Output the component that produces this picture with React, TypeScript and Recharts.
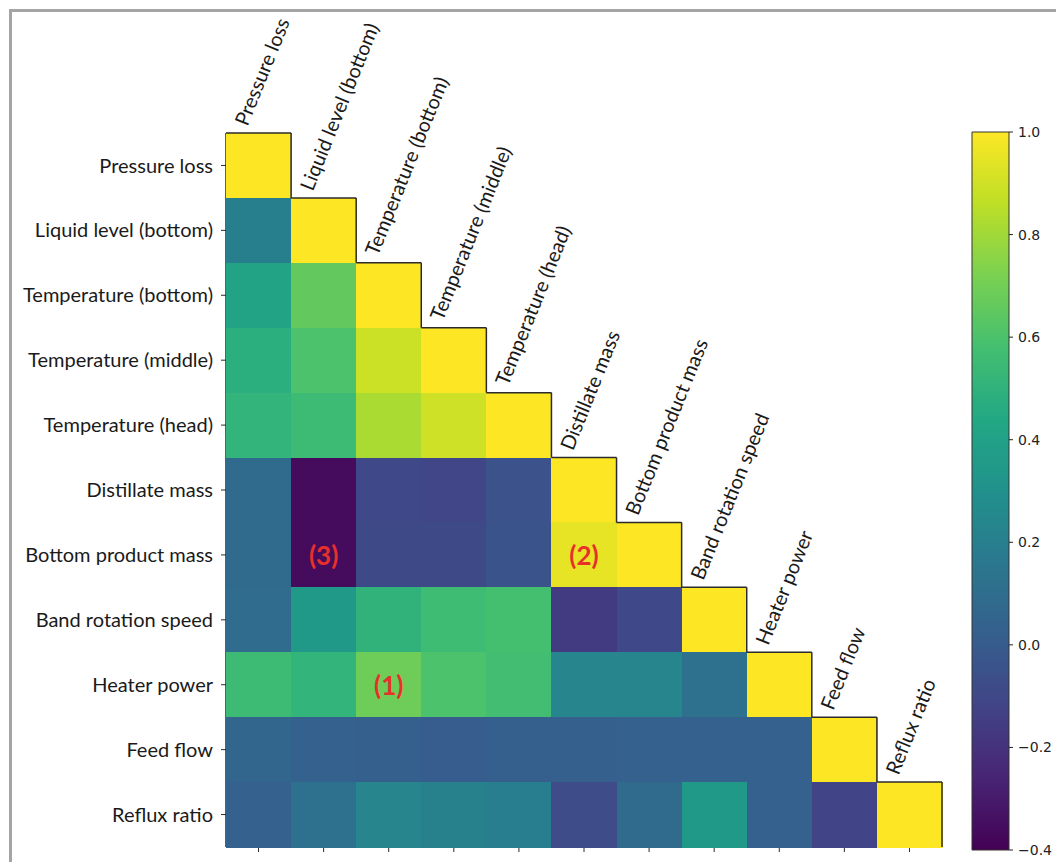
import { ScatterChart, Scatter, XAxis, YAxis, BarChart, Bar } from 'recharts'

const variables = [
  'Pressure loss',
  'Liquid level (bottom)',
  'Temperature (bottom)',
  'Temperature (middle)',
  'Temperature (head)',
  'Distillate mass',
  'Bottom product mass',
  'Band rotation speed',
  'Heater power',
  'Feed flow',
  'Reflux ratio',
]

// lower triangle, row by row (row 1..10), diagonal left out (always 1)
const row1 = [0.2]
const row2 = [0.41, 0.66]
const row3 = [0.48, 0.6, 0.89]
const row4 = [0.51, 0.55, 0.82, 0.9]
const row5 = [0.08, -0.36, -0.1, -0.11, -0.05]
const row6 = [0.08, -0.36, -0.09, -0.09, -0.04, 0.95]
const row7 = [0.09, 0.35, 0.5, 0.56, 0.58, -0.16, -0.1]
const row8 = [0.55, 0.51, 0.69, 0.6, 0.57, 0.23, 0.23, 0.12]
const row9 = [0.06, 0.03, 0.02, 0.01, 0.02, 0.02, 0.03, 0.03, 0.03]
const row10 = [0.03, 0.12, 0.23, 0.21, 0.19, -0.08, 0.08, 0.35, 0.03, -0.12]
const lowerRows = [row1, row2, row3, row4, row5, row6, row7, row8, row9, row10]

const annotations = [
  { row: 8, col: 2, label: '(1)' },
  { row: 6, col: 5, label: '(2)' },
  { row: 6, col: 1, label: '(3)' },
]

const colorbarTicks = [-0.4, -0.2, 0, 0.2, 0.4, 0.6, 0.8, 1.0]
const vmin = -0.4
const vmax = 1.0

// viridis key colours at t = 0, 0.1, ... 1
const viridisStops = [
  '#440154', '#482475', '#414487', '#355f8d', '#2a788e', '#21918c',
  '#22a884', '#44bf70', '#7ad151', '#bddf26', '#fde725',
]

function hexToRgb(h: string) {
  return [1, 3, 5].map((i) => parseInt(h.slice(i, i + 2), 16))
}

function viridis(v: number) {
  const t = Math.min(1, Math.max(0, (v - vmin) / (vmax - vmin))) * 10
  const i = Math.min(9, Math.floor(t))
  const f = t - i
  const a = hexToRgb(viridisStops[i])
  const b = hexToRgb(viridisStops[i + 1])
  const c = a.map((x, k) => Math.round(x + (b[k] - x) * f))
  return `rgb(${c[0]},${c[1]},${c[2]})`
}

const cells = [
  { x: 0, y: 0, value: 1 },
  ...lowerRows.flatMap((vals, r) => [
    ...vals.map((value, c) => ({ x: c, y: r + 1, value })),
    { x: r + 1, y: r + 1, value: 1 },
  ]),
]
const diagonal = variables.map((name, i) => ({ x: i, y: i, name }))
const annotationPoints = annotations.map((a) => ({ x: a.col, y: a.row, label: a.label }))
const colorbarData = [{ name: 'cb', range: [vmin, vmax] }]

const CHART_W = 950
const CHART_H = 846
const MARGIN = { top: 125, right: 16, bottom: 0, left: 0 }
const Y_AXIS_W = 218
const X_AXIS_H = 7
const CELL_W = (CHART_W - MARGIN.left - MARGIN.right - Y_AXIS_W) / variables.length
const CELL_H = (CHART_H - MARGIN.top - MARGIN.bottom - X_AXIS_H) / variables.length

const labelFont = 'Lato, "Open Sans", sans-serif'

function HeatCell(props: any) {
  const { cx, cy, payload } = props
  return (
    <rect
      x={cx - CELL_W / 2}
      y={cy - CELL_H / 2}
      width={CELL_W + 0.6}
      height={CELL_H + 0.6}
      fill={viridis(payload.value)}
      shapeRendering="crispEdges"
    />
  )
}

function DiagonalEdge(props: any) {
  const { cx, cy, payload } = props
  const x0 = cx - CELL_W / 2
  const x1 = cx + CELL_W / 2
  const y0 = cy - CELL_H / 2
  const y1 = cy + CELL_H / 2
  const lx = cx - 11
  const ly = y0 - 6
  return (
    <g>
      <line x1={x0} y1={y0} x2={x1} y2={y0} stroke="#2b2b2b" strokeWidth={1.5} />
      <line x1={x1} y1={y0} x2={x1} y2={y1} stroke="#2b2b2b" strokeWidth={1.5} />
      <text
        x={lx}
        y={ly}
        transform={`rotate(-68, ${lx}, ${ly})`}
        fontFamily={labelFont}
        fontSize={20}
        fill="#1a1a1a"
      >
        {payload.name}
      </text>
    </g>
  )
}

function Annotation(props: any) {
  const { cx, cy, payload } = props
  return (
    <text
      x={cx}
      y={cy}
      textAnchor="middle"
      dominantBaseline="central"
      fontFamily={labelFont}
      fontWeight="bold"
      fontSize={26}
      fill="#e8302a"
    >
      {payload.label}
    </text>
  )
}

function ColorbarTick(props: any) {
  const { x, y, payload } = props
  const v = payload.value as number
  const label = v < 0 ? '\u2212' + Math.abs(v).toFixed(1) : v.toFixed(1)
  return (
    <text
      x={x}
      y={y}
      dominantBaseline="central"
      fontFamily='"DejaVu Sans", sans-serif'
      fontSize={14}
      fill="#222"
    >
      {label}
    </text>
  )
}

function Colorbar() {
  return (
    <BarChart
      width={94}
      height={854}
      data={colorbarData}
      margin={{ top: 124, right: 0, bottom: 12, left: 10 }}
      barCategoryGap={0}
    >
      <XAxis dataKey="name" hide />
      <YAxis
        orientation="right"
        type="number"
        domain={[vmin, vmax]}
        ticks={colorbarTicks}
        width={47}
        axisLine={false}
        tickSize={4}
        tickMargin={5}
        tickLine={{ stroke: '#222' }}
        tick={ColorbarTick}
        interval={0}
      />
      <Bar dataKey="range" fill="url(#viridisGrad)" stroke="#333" strokeWidth={1} isAnimationActive={false} />
    </BarChart>
  )
}

export default function App() {
  return (
    <div
      style={{
        position: 'fixed',
        left: 0,
        top: 0,
        width: 1056,
        height: 862,
        overflow: 'hidden',
        background: '#fff',
      }}
    >
      <svg width={0} height={0} style={{ position: 'absolute' }}>
        <defs>
          <linearGradient id="viridisGrad" x1="0" y1="1" x2="0" y2="0">
            {viridisStops.map((c, i) => (
              <stop key={c} offset={`${i * 10}%`} stopColor={c} />
            ))}
          </linearGradient>
        </defs>
      </svg>
      <div
        style={{
          position: 'absolute',
          left: 9,
          top: 9,
          width: 1100,
          height: 900,
          borderTop: '3px solid #a4a4a4',
          borderLeft: '3px solid #a4a4a4',
        }}
      />
      <div style={{ position: 'absolute', left: 8, top: 8 }}>
        <ScatterChart width={CHART_W} height={CHART_H} margin={MARGIN}>
          <XAxis
            type="number"
            dataKey="x"
            domain={[-0.5, variables.length - 0.5]}
            ticks={variables.map((_, i) => i)}
            height={X_AXIS_H}
            tickSize={5}
            tickFormatter={() => ''}
            axisLine={{ stroke: '#2b2b2b', strokeWidth: 1.5 }}
            tickLine={{ stroke: '#2b2b2b' }}
          />
          <YAxis
            type="number"
            dataKey="y"
            reversed
            domain={[-0.5, variables.length - 0.5]}
            ticks={variables.map((_, i) => i)}
            width={Y_AXIS_W}
            tickSize={5}
            tickMargin={8}
            tickFormatter={(i: number) => variables[i]}
            tick={{ fontFamily: labelFont, fontSize: 20, fill: '#1a1a1a' }}
            axisLine={{ stroke: '#2b2b2b', strokeWidth: 1.5 }}
            tickLine={{ stroke: '#2b2b2b' }}
            interval={0}
          />
          <Scatter data={cells} shape={HeatCell} isAnimationActive={false} />
          <Scatter data={diagonal} shape={DiagonalEdge} isAnimationActive={false} />
          <Scatter data={annotationPoints} shape={Annotation} isAnimationActive={false} />
        </ScatterChart>
      </div>
      <div style={{ position: 'absolute', left: 962, top: 8 }}>
        <Colorbar />
      </div>
    </div>
  )
}
